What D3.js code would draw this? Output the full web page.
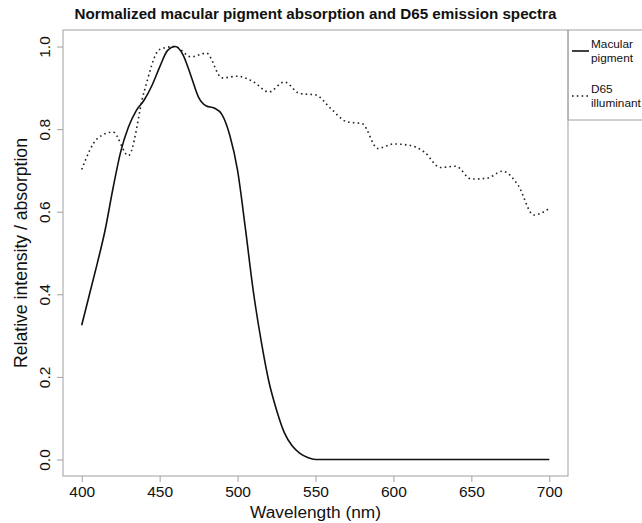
<!DOCTYPE html>
<html>
<head>
<meta charset="utf-8">
<script src="https://cdn.jsdelivr.net/npm/d3@7"></script>
<style>
  body { margin: 0; background: #fff; }
  text { font-family: "Liberation Sans", Arial, sans-serif; fill: #111; }
</style>
</head>
<body>
<div id="chart"></div>
<script>
// macular pigment absorption (normalized)
const mpWavelength = [400,405,410,415,420,425,430,435,440,445,450,455,460,465,470,475,480,485,490,495,
                      500,505,510,515,520,525,530,535,540,545,550,600,650,700];
const mpValue      = [0.325,0.40,0.475,0.555,0.655,0.745,0.805,0.845,0.87,0.905,0.95,0.99,1.0,0.98,0.93,0.877,0.856,0.851,0.835,0.785,
                      0.70,0.56,0.41,0.29,0.19,0.12,0.065,0.033,0.015,0.005,0,0,0,0];

// D65 illuminant (normalized to max)
const d65Wavelength = [400,410,420,430,440,450,460,470,480,490,500,510,520,530,540,550,560,570,580,590,
                       600,610,620,630,640,650,660,670,680,690,700];
const d65Value      = [0.702,0.777,0.793,0.736,0.890,0.993,1.0,0.975,0.984,0.924,0.928,0.915,0.890,0.914,0.886,0.883,0.849,0.818,0.813,0.753,
                       0.764,0.761,0.744,0.707,0.710,0.679,0.681,0.698,0.664,0.592,0.608];

const xTicks = [400,450,500,550,600,650,700];
const yTicks = [0,0.2,0.4,0.6,0.8,1.0];
const legendLabels = [["Macular","pigment"],["D65","illuminant"]];

const W = 642, H = 523;
const plot = {left: 63, right: 568, top: 30, bottom: 476};
const FONT = '"Liberation Sans", Arial, sans-serif';

const svg = d3.select('#chart').append('svg')
  .attr('width', W).attr('height', H);

// R-style 4% padding on both axes
const x = d3.scaleLinear().domain([388, 712]).range([plot.left, plot.right]);
const y = d3.scaleLinear().domain([-0.04, 1.04]).range([plot.bottom, plot.top]);

// box
svg.append('rect')
  .attr('x', plot.left).attr('y', plot.top)
  .attr('width', plot.right - plot.left).attr('height', plot.bottom - plot.top)
  .attr('fill', 'none').attr('stroke', '#a0a0a0').attr('stroke-width', 1);

// x axis
const xAxis = svg.append('g')
  .attr('transform', `translate(0,${plot.bottom})`)
  .call(d3.axisBottom(x).tickValues(xTicks).tickSize(6).tickPadding(4).tickFormat(d3.format('d')));
xAxis.select('.domain').remove();
xAxis.selectAll('line').attr('stroke', '#a0a0a0');
xAxis.selectAll('text').attr('font-size', 15.5).attr('fill', '#111').style('font-family', FONT);

// y axis (rotated labels)
const yAxis = svg.append('g')
  .attr('transform', `translate(${plot.left},0)`)
  .call(d3.axisLeft(y).tickValues(yTicks).tickSize(6).tickFormat(d3.format('.1f')));
yAxis.select('.domain').remove();
yAxis.selectAll('line').attr('stroke', '#a0a0a0');
yAxis.selectAll('text')
  .attr('x', null).attr('dy', null)
  .attr('text-anchor', 'middle')
  .attr('transform', 'translate(-13,0) rotate(-90)')
  .attr('font-size', 15.5).attr('fill', '#111').style('font-family', FONT);

// lines
const line = d3.line().curve(d3.curveMonotoneX).x(d => x(d[0])).y(d => y(d[1]));

svg.append('path')
  .datum(d3.zip(d65Wavelength, d65Value))
  .attr('d', line)
  .attr('fill', 'none').attr('stroke', '#222').attr('stroke-width', 1.6)
  .attr('stroke-dasharray', '1.6,3.2');

svg.append('path')
  .datum(d3.zip(mpWavelength, mpValue))
  .attr('d', line)
  .attr('fill', 'none').attr('stroke', '#111').attr('stroke-width', 1.6);

// titles
svg.append('text')
  .attr('x', (plot.left + plot.right) / 2).attr('y', 19)
  .attr('text-anchor', 'middle').attr('font-weight', 'bold').attr('font-size', 15.2)
  .text('Normalized macular pigment absorption and D65 emission spectra');

svg.append('text')
  .attr('x', (plot.left + plot.right) / 2).attr('y', 518)
  .attr('text-anchor', 'middle').attr('font-size', 17.3)
  .text('Wavelength (nm)');

svg.append('text')
  .attr('transform', `translate(27,${(plot.top + plot.bottom) / 2}) rotate(-90)`)
  .attr('text-anchor', 'middle').attr('font-size', 17.6)
  .text('Relative intensity / absorption');

// legend box, outside the plot on the right
const lg = svg.append('g');
lg.append('rect')
  .attr('x', plot.right).attr('y', plot.top)
  .attr('width', W - plot.right + 5).attr('height', 90)
  .attr('fill', 'none').attr('stroke', '#a0a0a0');

const styles = [null, '1.6,3.2'];
legendLabels.forEach((lab, i) => {
  const cy = 51 + i * 45;
  lg.append('line')
    .attr('x1', 572).attr('x2', 589).attr('y1', cy).attr('y2', cy)
    .attr('stroke', '#111').attr('stroke-width', 1.6)
    .attr('stroke-dasharray', styles[i]);
  lab.forEach((t, j) => {
    lg.append('text')
      .attr('x', 591).attr('y', cy - 3 + j * 14)
      .attr('font-size', 11.8)
      .text(t);
  });
});
</script>
</body>
</html>
